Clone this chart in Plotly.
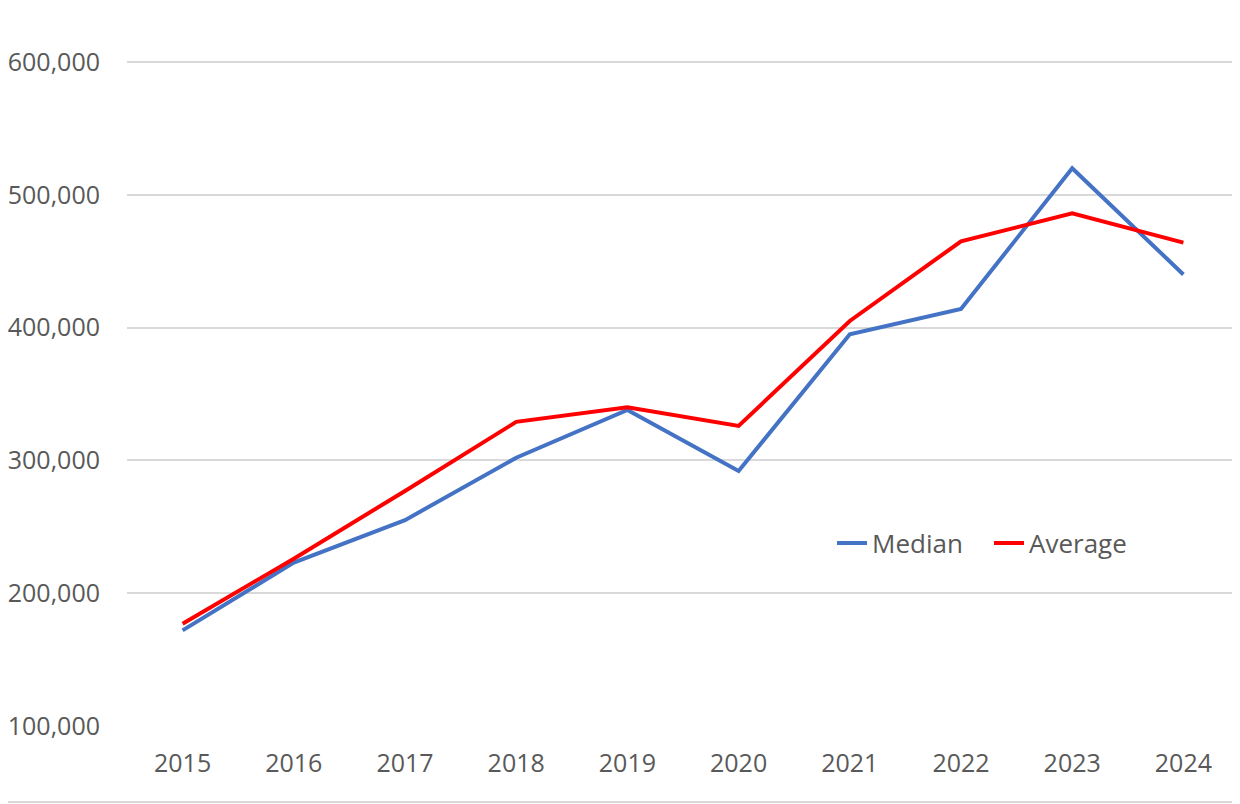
import plotly.graph_objects as go

years = ["2015", "2016", "2017", "2018", "2019", "2020", "2021", "2022", "2023", "2024"]
median = [172000, 223000, 255000, 302000, 338000, 292000, 395000, 414000, 520000, 440000]
average = [177000, 226000, 277000, 329000, 340000, 326000, 405000, 465000, 486000, 464000]
y_ticks = [100000, 200000, 300000, 400000, 500000, 600000]

OFF = 8  # page body margin
W, H = 1240 - OFF, 804 - OFF
L = 127 - OFF
R = 1
T = 0
B = H - (726 - OFF)
pw = W - L - R
ph = H - T - B
px_per_k = 1.328
ymax = 100000 + ph / px_per_k * 1000

fig = go.Figure()
fig.add_trace(go.Scatter(x=years, y=median, mode="lines", name="Median",
                         line=dict(color="#4472C4", width=4)))
fig.add_trace(go.Scatter(x=years, y=average, mode="lines", name="Average",
                         line=dict(color="#FF0000", width=4)))

font = "Open Sans, Liberation Sans, sans-serif"
fig.update_layout(
    width=W, height=H,
    margin=dict(l=L, r=R, t=T, b=B, pad=0),
    paper_bgcolor="white", plot_bgcolor="white",
    font=dict(family=font, color="#595959", size=25),
    showlegend=True,
    legend=dict(orientation="h", x=(832 - OFF - L) / pw, y=(726 - 543) / ph,
                xanchor="left", yanchor="middle", bgcolor="rgba(0,0,0,0)",
                font=dict(size=26, color="#595959"), itemwidth=30,
                entrywidth=112, entrywidthmode="pixels",
                tracegroupgap=0),
    xaxis=dict(type="category", range=[-0.5, 9.5], showgrid=False,
               showline=False, zeroline=False, ticks="",
               ticklabelstandoff=20, tickfont=dict(size=25, color="#595959")),
    yaxis=dict(range=[100000, ymax], tickvals=y_ticks,
               tickformat=",d", showgrid=True, gridcolor="#D9D9D9", gridwidth=1.5,
               zeroline=False, showline=False, ticks="",
               ticklabelstandoff=26, tickfont=dict(size=25, color="#595959")),
)

# chart border (right and bottom edges visible within the page)
rx = (1236 - 127) / pw
by = (726 - 802) / ph
fig.add_shape(type="line", xref="paper", yref="paper", x0=rx, x1=rx, y0=by, y1=1,
              line=dict(color="#BFBFBF", width=3), layer="above")
fig.add_shape(type="line", xref="paper", yref="paper", x0=-L / pw, x1=rx, y0=by, y1=by,
              line=dict(color="#D9D9D9", width=2), layer="above")

fig.write_html("out.html")
